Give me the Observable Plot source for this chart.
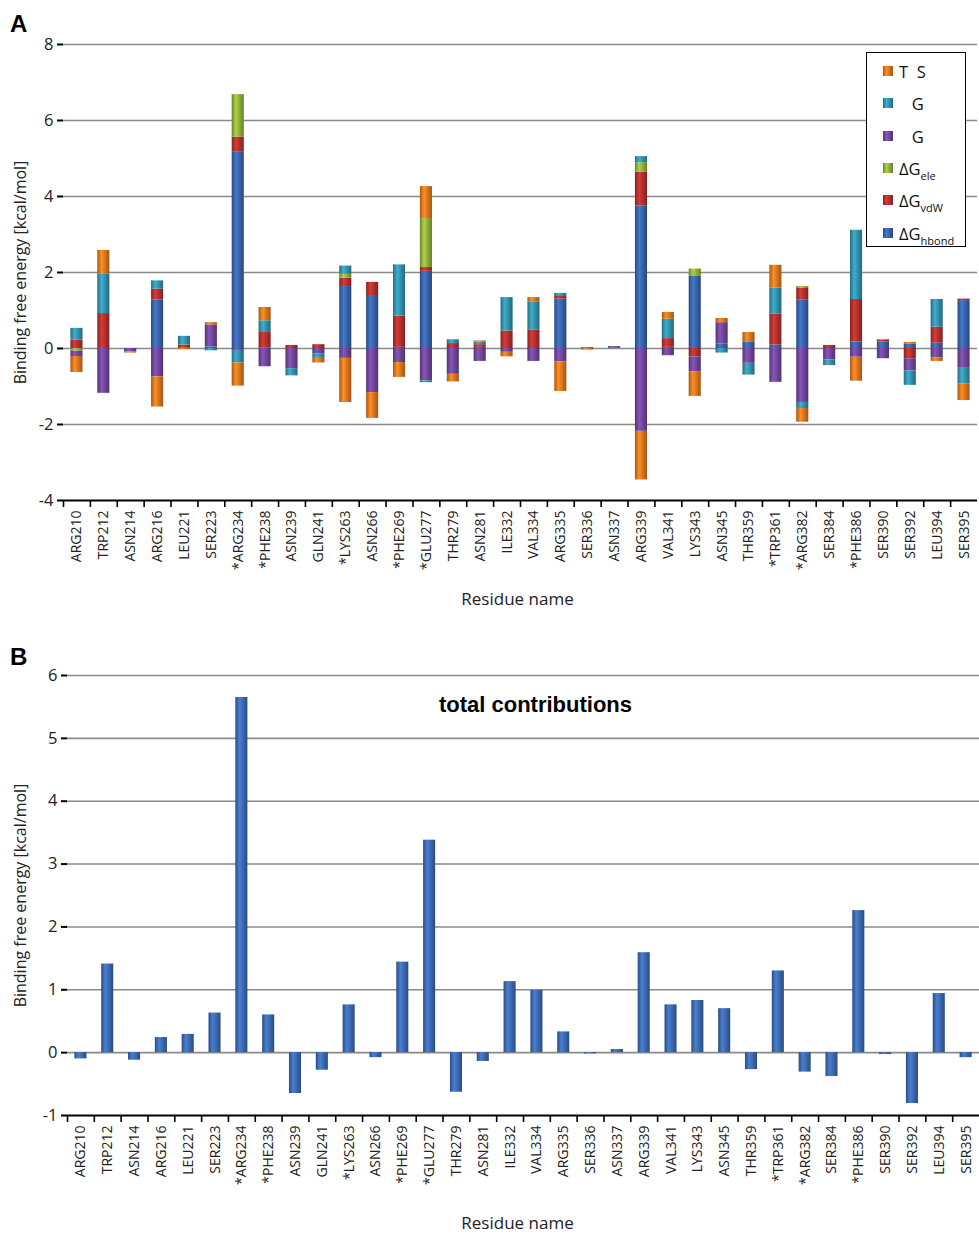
<!DOCTYPE html>
<html><head><meta charset="utf-8">
<script src="https://cdn.jsdelivr.net/npm/d3@7"></script>
<script src="https://cdn.jsdelivr.net/npm/@observablehq/plot@0.6"></script>
<style>
html,body{margin:0;padding:0;background:#fff;overflow:hidden;}
#root{position:relative;width:979px;height:1234px;}
.panel{position:absolute;left:0;}
.plabel{position:absolute;font:bold 24px "Liberation Sans",Arial,sans-serif;color:#000;}
#legend{position:absolute;left:866px;top:52px;width:100px;height:195px;border:1.5px solid #000;background:#fff;box-sizing:border-box;font-family:"Open Sans",sans-serif;font-size:16.5px;color:#111;}
.row{position:absolute;left:0;height:22px;display:flex;align-items:center;white-space:pre;}
.sw{width:10px;height:10px;margin-left:16px;margin-right:6px;flex:none;}
.row sub{font-size:11px;vertical-align:-5px;line-height:0;}
</style>
</head><body>
<div id="root">
  <div class="plabel" style="left:10px;top:10px;">A</div>
  <div id="pa" class="panel" style="top:0px;"></div>
  <div id="legend"></div>
  <div class="plabel" style="left:10px;top:643px;">B</div>
  <div id="pb" class="panel" style="top:630px;"></div>
</div>
<script>
// ---------- data ----------
const residues = ["ARG210","TRP212","ASN214","ARG216","LEU221","SER223","*ARG234","*PHE238","ASN239","GLN241","*LYS263","ASN266","*PHE269","*GLU277","THR279","ASN281","ILE332","VAL334","ARG335","SER336","ASN337","ARG339","VAL341","LYS343","ASN345","THR359","*TRP361","*ARG382","SER384","*PHE386","SER390","SER392","LEU394","SER395"];

const gHbond = [0,0,0,1.28,0.02,0.04,5.18,0.02,0,0,1.63,1.37,0.03,2.03,0,0.03,0,0,1.30,0,0,3.75,0.03,1.91,0.12,0.16,0.09,1.27,0,0.17,0.17,0.12,0.14,1.26];
const gVdw   = [0.22,0.92,0,0.28,0.07,0,0.38,0.40,0.08,0.10,0.22,0.37,0.82,0.10,0.13,0.07,0.46,0.49,0.09,0.02,0.02,0.89,0.23,-0.22,0,0,0.82,0.31,0.08,1.12,0.05,-0.27,0.42,0.04];
const gEle   = [-0.07,0,0,0,0,0,1.12,0,0,0,0.10,0,0,1.29,0,0,0,0,0,0,0,0.25,0,0.18,0,0,0,0.05,0,0,0,0,0,0];
const gPurple= [-0.14,-1.18,-0.09,-0.75,0,0.58,-0.05,-0.48,-0.53,-0.15,-0.26,-1.16,-0.37,-0.85,-0.68,-0.34,-0.10,-0.34,-0.35,0,0.03,-2.18,-0.19,-0.39,0.56,-0.39,-0.89,-1.42,-0.30,-0.23,-0.27,-0.32,-0.25,-0.52];
const gTeal  = [0.31,1.03,0,0.22,0.23,-0.06,-0.33,0.31,-0.19,-0.11,0.22,0,1.35,-0.05,0.10,0.07,0.88,0.74,0.06,0,0,0.16,0.51,0,-0.12,-0.31,0.68,-0.16,-0.15,1.82,0,-0.38,0.73,-0.41];
const tDS    = [-0.42,0.63,-0.03,-0.79,-0.03,0.06,-0.61,0.35,0,-0.12,-1.16,-0.68,-0.39,0.84,-0.20,0.03,-0.12,0.11,-0.78,-0.04,0,-1.28,0.18,-0.65,0.11,0.26,0.60,-0.36,0,-0.63,0.02,0.04,-0.09,-0.44];

const totals = [-0.10,1.41,-0.12,0.24,0.29,0.63,5.65,0.60,-0.65,-0.28,0.76,-0.08,1.44,3.38,-0.63,-0.14,1.13,0.99,0.33,-0.02,0.05,1.59,0.76,0.83,0.70,-0.27,1.30,-0.31,-0.38,2.26,-0.03,-0.81,0.94,-0.08];

// stacking order from zero outward
const seriesKeys = ["hbond","vdW","ele","Gpurple","Gteal","TdS"];
const seriesValues = [gHbond, gVdw, gEle, gPurple, gTeal, tDS];
const seriesColors = ["#3a66ae","#b8312f","#93b43c","#74489e","#3495b0","#e8791e"];
const totalColor = "#3d6cb4";

// legend (top to bottom), text as in the figure
const legendItems = [
  {key:"TdS", main:"T  S", sub:""},
  {key:"Gteal", main:"   G", sub:""},
  {key:"Gpurple", main:"   G", sub:""},
  {key:"ele", main:"\u0394G", sub:"ele"},
  {key:"vdW", main:"\u0394G", sub:"vdW"},
  {key:"hbond", main:"\u0394G", sub:"hbond"}
];

const yTicksA = [-4,-2,0,2,4,6,8];
const yTicksB = [-1,0,1,2,3,4,5,6];
const yTitle = "Binding free energy [kcal/mol]";
const xTitle = "Residue name";
const panelTitleB = "total contributions";

// ---------- tables ----------
const rows = [];
seriesKeys.forEach((k, j) => seriesValues[j].forEach((v, i) => {
  if (v !== 0) rows.push({residue: residues[i], series: k, value: v});
}));
const totalRows = residues.map((r, i) => ({residue: r, total: totals[i]}));

const font = "'Open Sans', sans-serif";
const gridStyle = {stroke: "#8a8a8a", strokeOpacity: 1, strokeWidth: 1.6};
const fmt = d => String(d);

// ---------- panel A ----------
const stepA = (979 - 63 - 2) / residues.length;
const plotA = Plot.plot({
  width: 979, height: 615,
  marginTop: 44, marginLeft: 63, marginRight: 2, marginBottom: 115,
  style: {fontFamily: font, color: "#222", background: "transparent", overflow: "visible"},
  x: {domain: residues, paddingInner: 0.55, paddingOuter: 0.275, round: false},
  y: {domain: [-4, 8]},
  color: {domain: seriesKeys, range: seriesColors},
  marks: [
    Plot.gridY(yTicksA.filter(d => d > -4), gridStyle),
    Plot.barY(rows, {x: "residue", y: "value", fill: "series", order: seriesKeys}),
    Plot.ruleY([-4], {stroke: "#000", strokeWidth: 2}),
    Plot.axisY(yTicksA, {line: true, tickSize: 6, tickPadding: 4, fontSize: 16.5, tickFormat: fmt,
      stroke: "#000", strokeWidth: 2, label: null}),
    Plot.axisX({tickSize: 7, tickFormat: () => "", dx: -stepA / 2, stroke: "#000", strokeWidth: 1.6, label: null}),
    Plot.axisX({tickSize: 0, tickPadding: 10, tickRotate: -90, fontSize: 14, label: null}),
    Plot.text([yTitle], {frameAnchor: "left", textAnchor: "middle", rotate: -90, dx: -43, fontSize: 16, fill: "#222"}),
    Plot.text([xTitle], {frameAnchor: "bottom", dy: 104, dx: -3, fontSize: 17, fill: "#222"})
  ]
});
document.getElementById("pa").appendChild(plotA);

// ---------- panel B ----------
const stepB = (979 - 67) / residues.length;
const plotB = Plot.plot({
  width: 979, height: 604,
  marginTop: 45, marginLeft: 67, marginRight: 0, marginBottom: 119,
  style: {fontFamily: font, color: "#222", background: "transparent", overflow: "visible"},
  x: {domain: residues, paddingInner: 0.55, paddingOuter: 0.275, round: false},
  y: {domain: [-1, 6]},
  marks: [
    Plot.gridY(yTicksB.filter(d => d > -1), gridStyle),
    Plot.barY(totalRows, {x: "residue", y: "total", fill: totalColor}),
    Plot.ruleY([-1], {stroke: "#000", strokeWidth: 2}),
    Plot.text([panelTitleB], {frameAnchor: "top", dy: 21, dx: 12, fontSize: 22, fontWeight: "bold",
      fontFamily: "'Liberation Sans', Arial, sans-serif", fill: "#000"}),
    Plot.axisY(yTicksB, {line: true, tickSize: 6, tickPadding: 4, fontSize: 16.5, tickFormat: fmt,
      stroke: "#000", strokeWidth: 2, label: null}),
    Plot.axisX({tickSize: 7, tickFormat: () => "", dx: -stepB / 2, stroke: "#000", strokeWidth: 1.6, label: null}),
    Plot.axisX({tickSize: 0, tickPadding: 10, tickRotate: -90, fontSize: 14, label: null}),
    Plot.text([yTitle], {frameAnchor: "left", textAnchor: "middle", rotate: -90, dx: -47, fontSize: 16, fill: "#222"}),
    Plot.text([xTitle], {frameAnchor: "bottom", dy: 113, dx: -6, fontSize: 17, fill: "#222"})
  ]
});
document.getElementById("pb").appendChild(plotB);

// ---------- cylinder-like shading for bars ----------
function gradStops(c) {
  const base = d3.rgb(c);
  return [[0, base.darker(0.9).formatHex()], [35, base.brighter(0.45).formatHex()], [100, base.darker(1.0).formatHex()]];
}
function shade(svg, colors, prefix) {
  const s = d3.select(svg);
  const defs = s.insert("defs", ":first-child");
  colors.forEach((c, i) => {
    const id = prefix + i;
    const g = defs.append("linearGradient").attr("id", id)
      .attr("x1", "0%").attr("x2", "100%").attr("y1", "0%").attr("y2", "0%");
    gradStops(c).forEach(([o, col]) => g.append("stop").attr("offset", o + "%").attr("stop-color", col));
    s.selectAll("[fill]")
      .filter(function() { return (this.getAttribute("fill") || "").toLowerCase() === c.toLowerCase(); })
      .attr("fill", `url(#${id})`);
  });
}
shade(plotA, seriesColors, "ga");
shade(plotB, [totalColor], "gb");

// ---------- legend ----------
const legend = document.getElementById("legend");
const rowTops = [7, 39, 72, 104, 136, 169];
legendItems.forEach((it, i) => {
  const c = seriesColors[seriesKeys.indexOf(it.key)];
  const row = document.createElement("div");
  row.className = "row";
  row.style.top = rowTops[i] + "px";
  const sw = document.createElement("div");
  sw.className = "sw";
  sw.style.background = "linear-gradient(to right, " + gradStops(c).map(([o, col]) => col + " " + o + "%").join(", ") + ")";
  row.appendChild(sw);
  const t = document.createElement("span");
  t.textContent = it.main;
  if (it.sub) {
    const sb = document.createElement("sub");
    sb.textContent = it.sub;
    t.appendChild(sb);
  }
  row.appendChild(t);
  legend.appendChild(row);
});
</script>
</body></html>
